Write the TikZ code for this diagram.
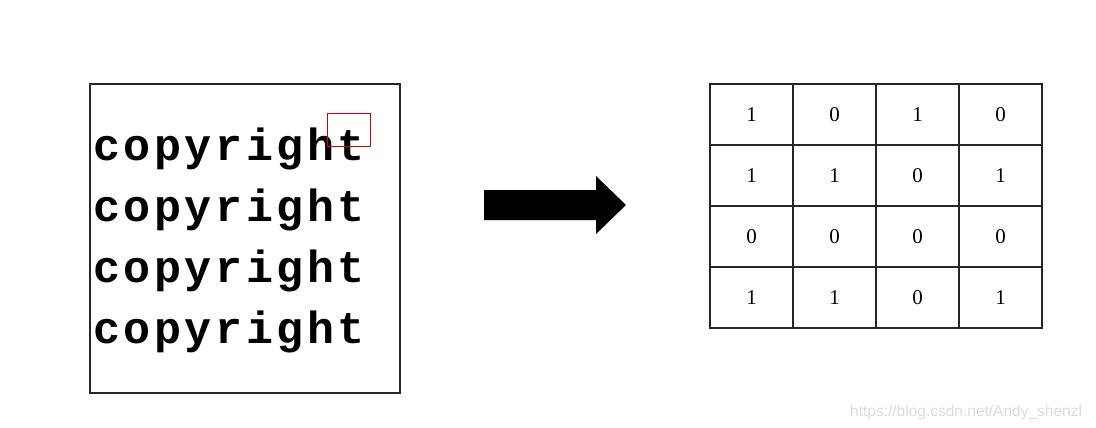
\documentclass[tikz,border=0pt]{standalone}
\usepackage{fontspec}
\setmainfont{Liberation Serif}
\newfontfamily\monob[LetterSpace=8]{Liberation Mono}
\newfontfamily\wmfont{Liberation Sans}
\begin{document}
\begin{tikzpicture}[x=1pt,y=-1pt,
  frame/.style={draw=black!85,line width=2pt},
  word/.style={anchor=base west,inner sep=0pt,font=\monob\bfseries\fontsize{45}{45}\selectfont},
  cell/.style={draw=black!85,line width=2pt,minimum width=83pt,minimum height=61pt,inner sep=0pt,anchor=north west,font=\fontsize{21}{21}\selectfont}]
\useasboundingbox (0,0) rectangle (1096,428);
% left image
\node[frame,anchor=north west,minimum width=310pt,minimum height=309pt,inner sep=0pt] (img) at (89,83) {};
\foreach \i/\y in {1/160,2/221,3/282,4/343}{
  \node[word] (w\i) at (93,\y) {copyright};
}
\node[draw=red!85!black,line width=1.2pt,anchor=north west,minimum width=43pt,minimum height=33pt,inner sep=0pt] (sel) at (327,113) {};
% arrow
\fill[black] (484,190) -- (596,190) -- (596,176) -- (626,205) -- (596,234) -- (596,220) -- (484,220) -- cycle;
% table
\foreach \r/\row in {0/{1,0,1,0},1/{1,1,0,1},2/{0,0,0,0},3/{1,1,0,1}}{
  \foreach \v [count=\c from 0] in \row {
    \node[cell] (c\r\c) at ({709+83*\c},{83+61*\r}) {\v};
  }
}
% watermark
\node[anchor=base west,inner sep=0pt,text=black!14,font=\wmfont\fontsize{15.5}{15.5}\selectfont] (wm) at (850,416) {https://blog.csdn.net/Andy\_shenzl};
\end{tikzpicture}
\end{document}
